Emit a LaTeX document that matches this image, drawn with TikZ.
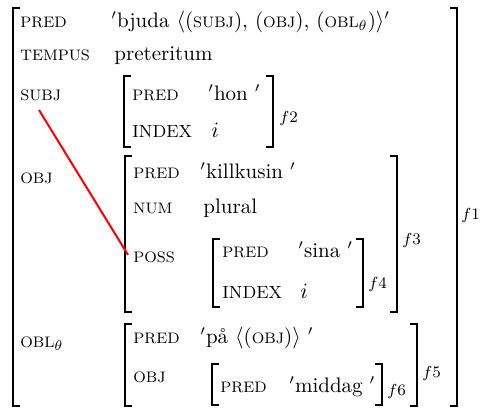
\documentclass[tikz,border=0pt]{standalone}
\usepackage{fontspec}
\newcommand{\FSbr}[4]{%
  \draw[brk] ({#1+7},#2) -- (#1,#2) -- (#1,#4) -- ({#1+7},#4);
  \draw[brk] ({#3-7},#2) -- (#3,#2) -- (#3,#4) -- ({#3-7},#4);}
\newcommand{\attr}[1]{{\fontsize{7.6}{9}\selectfont #1}}
\newcommand{\attrb}[1]{{\fontsize{8.8}{10}\selectfont #1}}
\begin{document}
\begin{tikzpicture}[x=0.5pt,y=-0.5pt,
  brk/.style={line width=0.7pt},
  lbl/.style={anchor=base west,inner sep=0pt,font=\fontsize{10.5}{12}\selectfont},
  fl/.style={anchor=base west,inner sep=0pt,font=\fontsize{8}{9}\selectfont},
  link/.style={red,line width=1pt}]
\useasboundingbox (0,0) rectangle (480,409);
% f1
\FSbr{13}{8}{457}{406}
\node[fl] (f1) at (461,219) {$f1$};
\node[lbl] (pred1) at (20,27) {\attr{PRED}};
\node[lbl] (pred1v) at (111,27) {$'$bjuda $\langle$(\attr{SUBJ}), (\attr{OBJ}), (\attr{OBL}$_\theta$)$\rangle'$};
\node[lbl] (temp1) at (20,60) {\attr{TEMPUS}};
\node[lbl] (temp1v) at (114,60) {preteritum};
\node[lbl] (subj1) at (20,100) {\attr{SUBJ}};
\node[lbl] (obj1) at (20,183) {\attr{OBJ}};
\node[lbl] (obl1) at (20,347) {\attr{OBL}$_\theta$};
% f2
\FSbr{124}{76}{273}{147}
\node[fl] (f2) at (279,122) {$f2$};
\node[lbl] (pred2) at (132,100) {\attr{PRED}};
\node[lbl] (pred2v) at (208,100) {$'$hon $'$};
\node[lbl] (idx2) at (132,137) {\attrb{INDEX}};
\node[lbl] (idx2v) at (211,137) {$i$};
% f3
\FSbr{125}{156}{397}{312}
\node[fl] (f3) at (402,244) {$f3$};
\node[lbl] (pred3) at (133,178) {\attr{PRED}};
\node[lbl] (pred3v) at (200,178) {$'$killkusin $'$};
\node[lbl] (num3) at (133,213) {\attr{NUM}};
\node[lbl] (num3v) at (203,213) {plural};
\node[lbl] (poss3) at (133,262) {\attr{POSS}};
% f4
\FSbr{213}{239}{363}{307}
\node[fl] (f4) at (368,288) {$f4$};
\node[lbl] (pred4) at (222,257) {\attr{PRED}};
\node[lbl] (pred4v) at (298,257) {$'$sina $'$};
\node[lbl] (idx4) at (222,298) {\attrb{INDEX}};
\node[lbl] (idx4v) at (300,298) {$i$};
% f5
\FSbr{125}{324}{417}{406}
\node[fl] (f5) at (422,377) {$f5$};
\node[lbl] (pred5) at (133,343) {\attr{PRED}};
\node[lbl] (pred5v) at (200,343) {$'$på $\langle$(\attr{OBJ})$\rangle$ $'$};
\node[lbl] (obj5) at (133,382) {\attr{OBJ}};
% f6
\FSbr{212}{364}{382}{405}
\node[fl] (f6) at (387,395) {$f6$};
\node[lbl] (pred6) at (220,392) {\attr{PRED}};
\node[lbl] (pred6v) at (289,392) {$'$middag $'$};
% link
\coordinate (linkstart) at (39,110);
\draw[link] (linkstart) -- ([xshift=-2.5pt,yshift=1pt]poss3.west);
\end{tikzpicture}
\end{document}
